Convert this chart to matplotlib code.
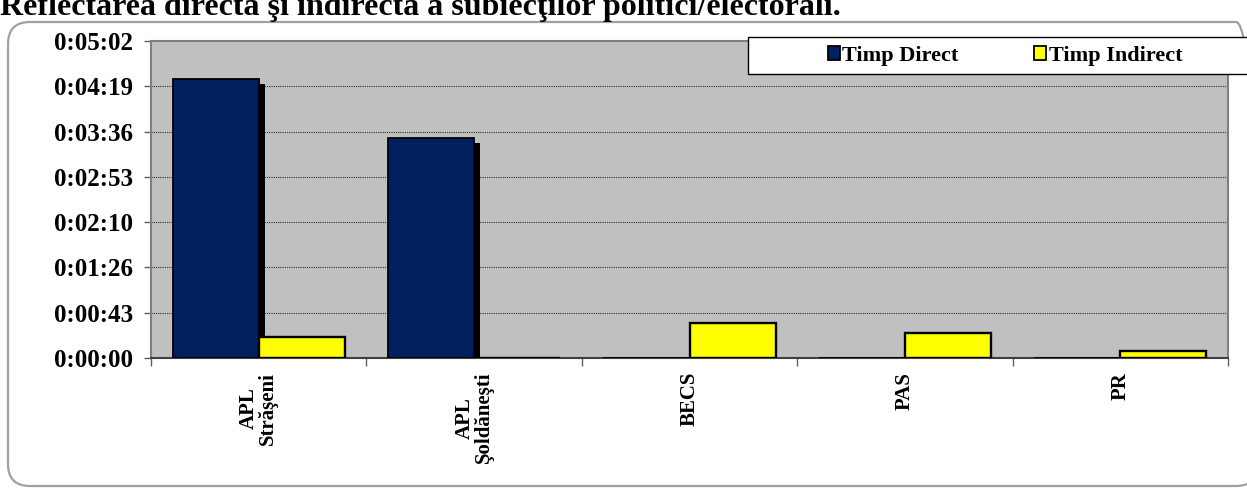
import matplotlib
matplotlib.use("Agg")
import matplotlib.pyplot as plt
import matplotlib.transforms as mtransforms
from matplotlib.patches import Patch, FancyBboxPatch, Rectangle
import numpy as np

plt.rcParams['font.family'] = ['Liberation Serif', 'DejaVu Serif']

title = 'Reflectarea directă şi indirectă a subiecţilor politici/electorali.'
categories = ['APL\nStrăşeni', 'APL\nŞoldăneşti', 'BECS', 'PAS', 'PR']
series_names = ['Timp Direct', 'Timp Indirect']
# durations in seconds
timp_direct = [266, 210, 0, 0, 0]
timp_indirect = [20, 0, 33, 24, 7]

navy = '#002060'
yellow = '#FFFF00'

W, H = 1247, 488
fig = plt.figure(figsize=(W / 100, H / 100), dpi=100)

# rounded frame around the chart
frame = FancyBboxPatch((8, 2), 1250, H - 24, boxstyle='round,pad=0,rounding_size=22',
                       transform=None, facecolor='none', edgecolor='#A0A0A0',
                       linewidth=1.6, zorder=0)
fig.patches.append(frame)

fig.text(0, 1 - 15 / H, title, fontsize=23, fontweight='bold',
         ha='left', va='baseline')

ax = fig.add_axes([151 / W, 1 - 358 / H, (1228 - 151) / W, (358 - 41) / H])
ax.set_facecolor('#C0C0C0')

x = np.arange(len(categories))
w = 0.4

shadow_tr = mtransforms.offset_copy(ax.transData, fig=fig, x=6, y=-5, units='dots')
ax.bar(x - w / 2, timp_direct, w, color='black', transform=shadow_tr, zorder=2)
ax.bar(x - w / 2, timp_direct, w, color=navy, edgecolor='black', linewidth=1.3, zorder=3)
ax.bar(x + w / 2, timp_indirect, w, color=yellow, edgecolor='black', linewidth=1.7, zorder=3)

step = 43.2
yticks = np.arange(0, 7.01 * step, step)
ax.set_ylim(0, 7 * step)
ax.set_xlim(-0.5, len(categories) - 0.5)
ax.set_yticks(yticks)


def fmt(s):
    s = int(round(s))
    return '%d:%02d:%02d' % (s // 3600, (s % 3600) // 60, s % 60)


ax.set_yticklabels([fmt(v) for v in yticks], fontsize=18, fontweight='bold')
for v in yticks[1:-1]:
    ax.axhline(v, color='#303030', linestyle=(0, (1, 1)), linewidth=0.8, zorder=1)

ax.set_xticks(x)
ax.set_xticklabels(categories, rotation=90, fontsize=15, fontweight='bold',
                   va='top', ha='center', multialignment='center', linespacing=0.95)
ax.set_xticks(np.arange(-0.5, len(categories)), minor=True)
ax.tick_params(axis='x', which='major', length=0, pad=10)
ax.tick_params(axis='x', which='minor', length=6, color='#606060', width=1)
ax.tick_params(axis='y', length=5, color='#606060', width=1, pad=8)
for sp in ax.spines.values():
    sp.set_color('#808080')
    sp.set_linewidth(1.5)
ax.spines['bottom'].set_color('#404040')

# legend box
fig.patches.append(Rectangle((748 / W, 1 - 74 / H), 0.6, 37 / H, transform=fig.transFigure,
                             facecolor='white', edgecolor='black', linewidth=1, zorder=5))
handles = [Patch(facecolor=navy, edgecolor='black', linewidth=1.3),
           Patch(facecolor=yellow, edgecolor='black', linewidth=1.3)]
leg = fig.legend(handles, series_names, ncol=2, loc='center', frameon=False,
                 bbox_to_anchor=(1005 / W, 1 - 56 / H),
                 prop={'weight': 'bold', 'size': 16},
                 handlelength=0.55, handleheight=0.55, handletextpad=0.1,
                 columnspacing=3.4)
leg.set_zorder(6)

fig.savefig('out.png', dpi=100)
